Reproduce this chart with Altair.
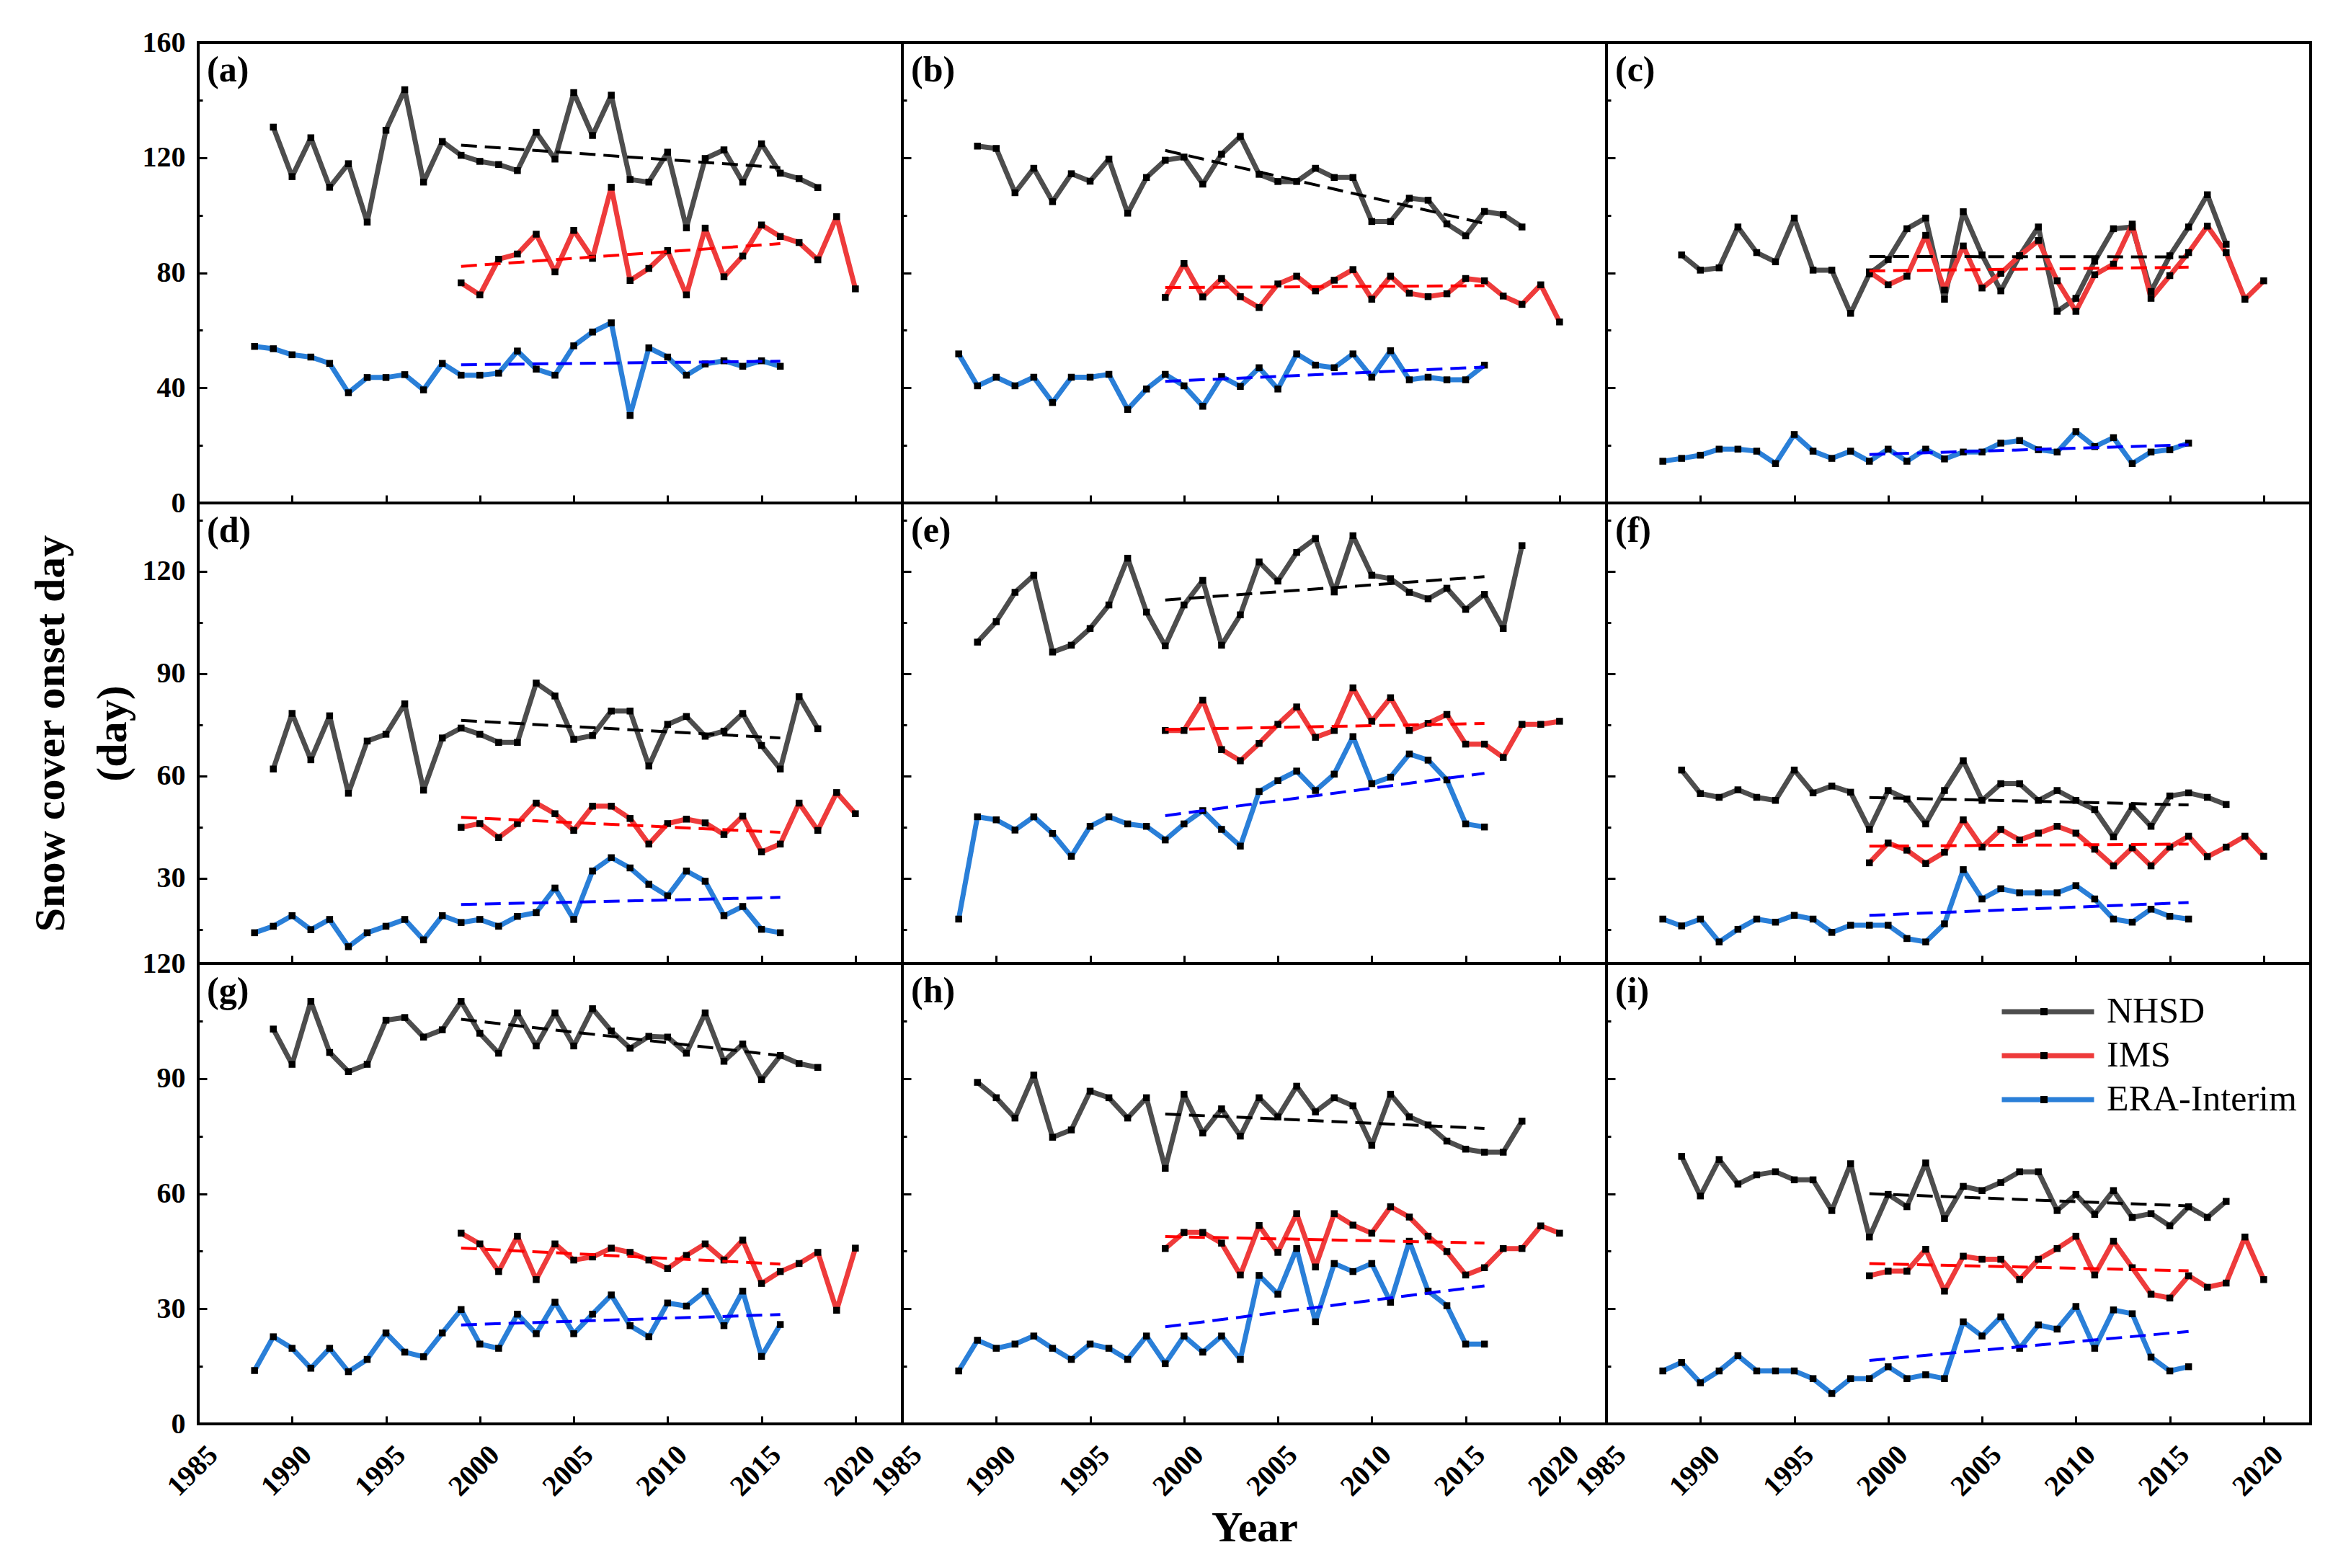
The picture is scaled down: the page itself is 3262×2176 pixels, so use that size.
import altair as alt
import pandas as pd

# ---------------- data ----------------
YEARS_NHSD = list(range(1989, 2019))
YEARS_IMS = list(range(1999, 2021))
YEARS_ERA = list(range(1988, 2017))

SERIES = ["NHSD", "IMS", "ERA-Interim"]
MARKER_KEYS = ["m1", "m2", "m3"]
LINE_COLORS = ["#4d4d4d", "#ee3b3b", "#2a7fd8"]
TREND_COLORS = ["#000000", "#ff0000", "#0000ff"]
PANEL_LABELS = ["(a)", "(b)", "(c)", "(d)", "(e)", "(f)", "(g)", "(h)", "(i)"]

a_nhsd = [130.6, 113.4, 126.9, 109.7, 117.9, 97.6, 129.5, 143.6, 111.5, 125.6, 120.8, 118.7, 117.6, 115.5, 128.8,
          119.5, 142.6, 127.7, 141.7, 112.4, 111.5, 121.9, 95.6, 119.7, 122.7, 111.5, 124.8, 114.6, 112.7, 109.6]
a_ims = [76.5, 72.3, 84.7, 86.5, 93.4, 80.3, 94.7, 85.0, 109.7, 77.3, 81.5, 87.7, 72.3, 95.5, 78.6, 85.8, 96.6,
         92.6, 90.5, 84.5, 99.5, 74.4]
a_era = [54.4, 53.6, 51.5, 50.7, 48.5, 38.3, 43.6, 43.6, 44.6, 39.3, 48.5, 44.4, 44.4, 45.1, 52.8, 46.5, 44.4,
         54.6, 59.4, 62.6, 30.4, 53.9, 50.7, 44.4, 48.3, 49.4, 47.5, 49.4, 47.5]

b_nhsd = [124.0, 123.2, 107.8, 116.3, 104.7, 114.4, 111.8, 119.5, 100.7, 113.1, 119.1, 120.2, 110.8, 121.2, 127.4,
          114.2, 111.7, 111.7, 116.3, 113.1, 113.1, 97.8, 97.8, 105.9, 105.2, 97.0, 92.8, 101.3, 100.2, 95.9]
b_ims = [71.4, 83.2, 71.6, 78.0, 71.7, 67.9, 76.1, 78.8, 73.7, 77.4, 81.1, 70.8, 78.8, 72.9, 71.7, 72.7, 78.0,
         77.2, 71.9, 69.0, 75.8, 62.9]
b_era = [51.8, 40.7, 43.7, 40.7, 43.7, 34.9, 43.7, 43.7, 44.7, 32.5, 39.6, 44.7, 40.7, 33.6, 43.9, 40.5, 47.0,
         39.6, 51.8, 47.9, 47.0, 51.8, 43.7, 52.9, 42.8, 43.7, 42.8, 42.8, 47.9]

c_nhsd = [86.2, 80.9, 81.7, 95.9, 87.0, 83.8, 99.0, 80.9, 80.9, 65.9, 79.6, 84.6, 95.3, 99.0, 70.8, 101.2, 86.2,
          73.7, 85.9, 95.9, 66.6, 71.1, 84.0, 95.3, 95.9, 73.5, 85.9, 95.9, 107.1, 89.9]
c_ims = [80.3, 75.8, 78.8, 93.0, 74.0, 89.3, 74.7, 79.8, 85.9, 91.2, 77.2, 66.6, 79.3, 83.0, 96.9, 71.1, 79.0,
         87.0, 96.2, 87.0, 70.8, 77.2]
c_era = [14.5, 15.5, 16.6, 18.7, 18.7, 18.0, 13.7, 23.8, 18.0, 15.5, 18.0, 14.5, 18.7, 14.5, 18.7, 15.3, 17.7,
         17.7, 20.8, 21.7, 18.5, 17.7, 24.8, 19.6, 22.7, 13.7, 17.7, 18.5, 20.8]

d_nhsd = [62.0, 78.3, 64.7, 77.6, 54.9, 70.2, 72.2, 81.1, 55.8, 71.1, 74.0, 72.2, 69.8, 69.8, 87.2, 83.4, 70.7,
          71.8, 79.0, 79.0, 62.9, 75.1, 77.4, 71.6, 73.1, 78.3, 68.9, 62.0, 83.2, 73.8]
d_ims = [44.9, 46.0, 41.9, 46.0, 52.0, 48.9, 44.0, 51.1, 51.1, 47.5, 40.0, 46.0, 47.3, 46.2, 42.8, 48.2, 37.7,
         40.0, 52.0, 44.0, 55.1, 48.9]
d_era = [14.0, 15.9, 19.0, 14.9, 17.9, 9.9, 14.0, 15.9, 17.9, 11.9, 19.0, 17.0, 17.9, 15.9, 18.8, 19.9, 27.1,
         17.9, 32.1, 36.0, 33.0, 28.2, 24.8, 32.1, 29.1, 19.0, 21.7, 15.0, 14.0]

e_nhsd = [99.2, 105.2, 113.8, 118.8, 96.3, 98.3, 103.2, 110.1, 123.8, 108.0, 98.1, 110.1, 117.3, 98.3, 107.2,
          122.7, 117.1, 125.5, 129.6, 113.9, 130.4, 118.8, 117.8, 113.8, 111.9, 115.0, 108.8, 113.2, 103.2, 127.5]
e_ims = [73.3, 73.3, 82.2, 67.7, 64.4, 69.5, 75.1, 80.2, 71.3, 73.3, 85.8, 76.0, 82.9, 73.3, 75.4, 78.0, 69.3,
         69.3, 65.4, 75.1, 75.1, 76.0]
e_era = [18.0, 48.0, 47.1, 44.1, 48.0, 43.1, 36.4, 45.2, 48.0, 45.9, 45.2, 41.2, 45.9, 49.8, 44.3, 39.4, 55.4,
         58.6, 61.4, 55.7, 60.5, 71.5, 57.7, 59.6, 66.4, 64.6, 58.8, 45.9, 45.0]

f_nhsd = [61.7, 54.8, 53.7, 55.9, 53.7, 52.8, 61.7, 55.0, 57.0, 55.2, 44.3, 55.7, 53.2, 45.9, 55.7, 64.4, 52.8,
          57.7, 57.7, 52.8, 55.7, 52.8, 50.1, 42.1, 51.0, 45.2, 54.1, 55.0, 53.7, 51.6]
f_ims = [34.5, 40.3, 38.2, 34.3, 37.6, 47.1, 39.1, 44.3, 41.2, 43.2, 45.2, 43.2, 38.5, 33.6, 38.9, 33.6, 39.1,
         42.3, 36.3, 39.1, 42.3, 36.4]
f_era = [18.0, 16.0, 18.0, 11.3, 15.0, 18.0, 17.1, 19.1, 18.0, 14.1, 16.2, 16.2, 16.2, 12.3, 11.3, 16.6, 32.5,
         23.9, 26.9, 25.7, 25.7, 25.7, 27.8, 23.9, 18.0, 17.1, 20.9, 18.8, 18.0]

g_nhsd = [102.9, 93.7, 110.1, 96.8, 91.8, 93.7, 105.2, 105.9, 100.8, 102.7, 110.1, 101.8, 96.6, 107.1, 98.5,
          107.1, 98.5, 108.2, 102.4, 97.9, 101.0, 100.8, 96.6, 107.1, 94.5, 99.0, 89.7, 96.0, 93.9, 92.9]
g_ims = [49.7, 46.9, 39.7, 48.9, 37.6, 46.9, 42.7, 43.5, 45.8, 44.7, 42.7, 40.5, 43.9, 46.9, 42.7, 47.9, 36.6,
         39.7, 41.8, 44.7, 29.6, 45.8]
g_era = [13.9, 22.7, 19.7, 14.5, 19.7, 13.6, 16.8, 23.7, 18.7, 17.5, 23.7, 29.8, 20.8, 19.7, 28.6, 23.5, 31.7,
         23.5, 28.6, 33.6, 25.6, 22.7, 31.5, 30.7, 34.6, 25.6, 34.6, 17.6, 25.9]

h_nhsd = [89.0, 85.0, 79.7, 90.9, 74.7, 76.6, 86.7, 85.0, 79.7, 85.0, 66.6, 85.9, 75.8, 82.1, 75.0, 85.0, 80.0,
          88.0, 81.3, 85.0, 82.9, 72.6, 85.9, 80.0, 77.9, 73.7, 71.6, 70.8, 70.8, 78.9]
h_ims = [45.7, 49.9, 49.9, 47.1, 38.8, 51.7, 44.7, 54.8, 40.9, 54.8, 51.8, 49.7, 56.6, 53.9, 48.9, 44.9, 38.8,
         40.7, 45.7, 45.7, 51.6, 49.7]
h_era = [13.8, 21.8, 19.7, 20.8, 22.9, 19.7, 16.8, 20.8, 19.7, 16.8, 22.9, 15.7, 22.9, 18.7, 22.9, 16.8, 38.7,
         33.8, 45.7, 26.6, 41.8, 39.7, 41.8, 31.7, 47.6, 34.6, 30.8, 20.8, 20.8]

i_nhsd = [69.7, 59.4, 68.9, 62.5, 64.9, 65.7, 63.6, 63.6, 55.6, 67.8, 48.7, 59.8, 56.6, 68.0, 53.5, 61.9, 60.8,
          62.9, 65.7, 65.7, 55.6, 59.8, 54.6, 60.8, 53.8, 54.8, 51.6, 56.6, 53.8, 58.0]
i_ims = [38.6, 39.8, 39.8, 45.5, 34.6, 43.7, 42.9, 42.9, 37.6, 42.9, 45.7, 48.9, 38.8, 47.6, 40.7, 33.8, 32.8,
         38.6, 35.6, 36.7, 48.7, 37.6]
i_era = [13.8, 16.0, 10.7, 13.8, 17.8, 13.8, 13.8, 13.8, 11.8, 7.9, 11.8, 11.8, 14.9, 11.8, 12.8, 11.8, 26.6,
         22.9, 27.9, 19.7, 25.8, 24.7, 30.6, 19.7, 29.7, 28.7, 17.4, 13.8, 14.9]

PANELS = [
    (a_nhsd, a_ims, a_era), (b_nhsd, b_ims, b_era), (c_nhsd, c_ims, c_era),
    (d_nhsd, d_ims, d_era), (e_nhsd, e_ims, e_era), (f_nhsd, f_ims, f_era),
    (g_nhsd, g_ims, g_era), (h_nhsd, h_ims, h_era), (i_nhsd, i_ims, i_era),
]

X_TICKS = [1985, 1990, 1995, 2000, 2005, 2010, 2015, 2020]
X_DOMAIN = [1985, 2022.5]
ROW_Y = [
    {"domain": [0, 160], "ticks": list(range(0, 161, 20)), "step": 40},
    {"domain": [5, 140], "ticks": list(range(15, 136, 15)), "step": 30},
    {"domain": [0, 120], "ticks": list(range(0, 121, 15)), "step": 30},
]
TREND_RANGE = [1999, 2016]

# ---------------- styling ----------------
FONT = "Liberation Serif"
W, H = 977, 639
TICK = -11


def panel_frame(nhsd, ims, era):
    parts = []
    for k, (yrs, vals) in enumerate([(YEARS_NHSD, nhsd), (YEARS_IMS, ims), (YEARS_ERA, era)]):
        parts.append(pd.DataFrame({"year": yrs, "value": vals, "series": SERIES[k],
                                   "marker": MARKER_KEYS[k], "tcolor": TREND_COLORS[k]}))
    return pd.concat(parts, ignore_index=True)


def make_panel(idx):
    row, col = divmod(idx, 3)
    nhsd, ims, era = PANELS[idx]
    df = panel_frame(nhsd, ims, era)
    ry = ROW_Y[row]
    step = str(ry["step"])
    label_expr = "datum.value % " + step + " == 0 ? datum.label : ''"
    y_tick_expr = "datum.value % " + step + " == 0 ? -12 : -6"

    x_axis = alt.Axis(values=X_TICKS, labels=(row == 2), format="d", domain=False, grid=False,
                      tickSize={"expr": str(TICK)}, tickWidth=3, tickColor="black",
                      labelAngle=315, labelAlign="center", labelBaseline="middle",
                      labelPadding=76, labelOffset=-8, labelFont=FONT, labelFontSize=40,
                      labelFontWeight="bold", labelColor="black", labelOverlap=False,
                      labelFlush=False, titleFont=FONT, titleFontSize=60, titleFontWeight="bold",
                      titleColor="black", titlePadding=8)
    y_axis = alt.Axis(values=ry["ticks"], labels=(col == 0), domain=False, grid=False,
                      tickSize={"expr": y_tick_expr}, tickWidth=3, tickColor="black",
                      labelExpr=label_expr,
                      labelPadding=30, labelFont=FONT, labelFontSize=40, labelFontWeight="bold",
                      labelColor="black", labelOverlap=False, labelFlush=False, labelBound=False,
                      titleFont=FONT, titleFontSize=60, titleFontWeight="bold", titleColor="black",
                      titlePadding=10, titleLineHeight=86)

    x_title = "Year" if idx == 7 else None
    y_title = ["Snow cover onset day", "(day)"] if idx == 3 else None

    x_enc = alt.X("year:Q", scale=alt.Scale(domain=X_DOMAIN, nice=False, zero=False),
                  axis=x_axis, title=x_title)
    y_enc = alt.Y("value:Q", scale=alt.Scale(domain=ry["domain"], nice=False, zero=False),
                  axis=y_axis, title=y_title)

    is_legend = idx == 8
    if is_legend:
        color_legend = alt.Legend(orient="none", legendX=587.5, legendY=42,
                                  symbolType="M-4,0L4,0", symbolSize=1024, symbolStrokeWidth=7,
                                  labelFont=FONT, labelFontSize=50, labelFontWeight="normal",
                                  labelColor="black", labelOffset=56.5, labelLimit=600,
                                  rowPadding=11, padding=0)
        shape_legend = alt.Legend(orient="none", legendX=602, legendY=62, symbolType="square",
                                  symbolSize=100, symbolFillColor="black", symbolStrokeWidth=0,
                                  labelExpr="''", labelFontSize=1, labelOpacity=0,
                                  rowPadding=51, padding=0)
    else:
        color_legend = None
        shape_legend = None

    color_enc = alt.Color("series:N", scale=alt.Scale(domain=SERIES, range=LINE_COLORS),
                          legend=color_legend, title=None)
    shape_enc = alt.Shape("marker:N", scale=alt.Scale(domain=MARKER_KEYS, range=["square"] * 3),
                          legend=shape_legend, title=None)

    layers = []
    for s in SERIES:
        layers.append(
            alt.Chart(df).transform_filter(alt.datum.series == s)
            .mark_line(strokeWidth=7, strokeJoin="round")
            .encode(x=x_enc, y=y_enc, color=color_enc)
        )
    layers.append(
        alt.Chart(df).mark_point(filled=True, size=90, color="black", opacity=1, strokeWidth=0)
        .encode(x=x_enc, y=y_enc, shape=shape_enc)
    )
    layers.append(
        alt.Chart(df)
        .transform_filter(alt.FieldRangePredicate(field="year", range=TREND_RANGE))
        .transform_regression("year", "value", groupby=["series", "tcolor"], extent=TREND_RANGE)
        .mark_line(strokeWidth=4, strokeDash=[22, 11])
        .encode(x=x_enc, y=y_enc, stroke=alt.Stroke("tcolor:N", scale=None), detail="series:N")
    )
    layers.append(
        alt.Chart(pd.DataFrame({"lab": [PANEL_LABELS[idx]]}))
        .mark_text(align="left", baseline="top", font=FONT, fontSize=50, fontWeight="bold",
                   color="black")
        .encode(text="lab:N", x=alt.value(12), y=alt.value(14))
    )
    return alt.layer(*layers).properties(width=W, height=H)


panels = [make_panel(i) for i in range(9)]

chart = (
    alt.concat(*panels, columns=3, spacing=0, bounds="flush")
    .resolve_scale(color="independent", shape="independent")
    .resolve_legend(color="independent", shape="independent")
    .properties(padding={"left": 30, "top": 29, "right": 5, "bottom": 5}, background="white")
    .configure_view(stroke="black", strokeWidth=4)
)

chart.save("out.html", embed_options={"renderer": "svg", "actions": False})
